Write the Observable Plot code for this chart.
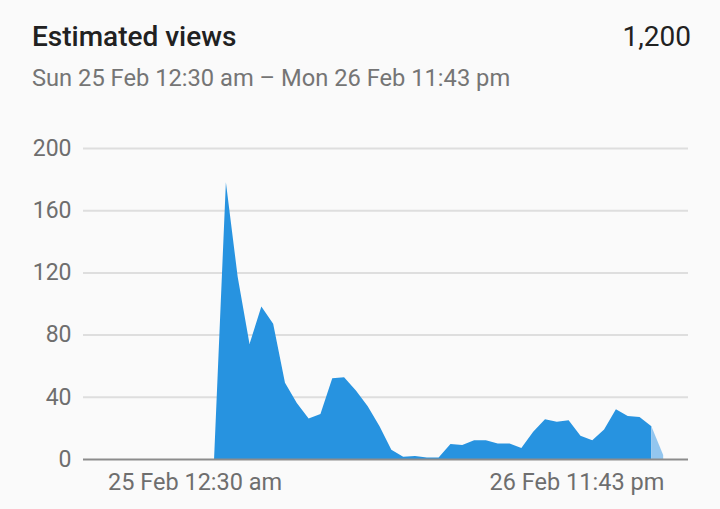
<!DOCTYPE html>
<html>
<head>
<meta charset="utf-8">
<script src="https://cdn.jsdelivr.net/npm/d3@7"></script>
<script src="https://cdn.jsdelivr.net/npm/@observablehq/plot@0.6"></script>
<style>
  html, body { margin: 0; padding: 0; background: #fafafa; }
  body { width: 720px; height: 509px; overflow: hidden; font-family: Roboto, sans-serif; }
  #hdr { position: relative; width: 720px; height: 110px; }
  #hdr div { position: absolute; white-space: nowrap; }
  .t { left: 32px; top: 23px; font: 500 28px/1 Roboto, sans-serif; color: #212121; }
  .n { right: 29px; top: 23px; font: 400 28px/1 Roboto, sans-serif; color: #212121; }
  .s { left: 32px; top: 67px; font: 400 23.7px/1 Roboto, sans-serif; color: #757575; }
  #chart svg { display: block; }
</style>
</head>
<body>
<div id="hdr">
  <div class="t" id="title"></div>
  <div class="n" id="total"></div>
  <div class="s" id="sub"></div>
</div>
<div id="chart"></div>
<script>
// ---- data ----
const titleText = "Estimated views";
const totalText = "1,200";
const subtitleText = "Sun 25 Feb 12:30 am – Mon 26 Feb 11:43 pm";

// one value per period, index 0 = first period after publishing
const views = [0, 178, 117, 74, 98, 87, 49, 36, 26, 29, 52, 52.5, 44, 34, 21, 6, 1.5, 2, 1, 1,
               9.6, 9, 12, 12, 10, 10, 7, 17.5, 25.5, 24, 25, 15, 12, 19, 32, 27.6, 27, 21, 2.5];
const completeCount = 38;           // last period is still incomplete (lighter)
const xDomain = [-11.09, 40.1];     // period index range of the full time axis
const xTickPositions = [-1.65, 30.66];
const xTickLabels = ["25 Feb 12:30 am", "26 Feb 11:43 pm"];
const yTicks = [0, 40, 80, 120, 160, 200];

// ---- build ----
document.getElementById("title").textContent = titleText;
document.getElementById("total").textContent = totalText;
document.getElementById("sub").textContent = subtitleText;

const rows = views.map((v, i) => ({i, v}));
const complete = rows.slice(0, completeCount);
const partial = rows.slice(completeCount - 1);
const labelOf = new Map(xTickPositions.map((p, k) => [p, xTickLabels[k]]));

const chart = Plot.plot({
  width: 720,
  height: 399,
  marginTop: 38,
  marginBottom: 50,
  marginLeft: 83,
  marginRight: 32,
  style: {background: "#fafafa", fontFamily: "Roboto, sans-serif", fontSize: "23px", color: "#6e6e6e"},
  x: {domain: xDomain},
  y: {domain: [0, 200]},
  marks: [
    Plot.gridY(yTicks.filter(d => d > 0), {stroke: "#dedede", strokeOpacity: 1, strokeWidth: 2}),
    Plot.areaY(complete, {x: "i", y: "v", fill: "#2793e0"}),
    Plot.areaY(partial, {x: "i", y: "v", fill: "#93c6ef"}),
    Plot.ruleY([0], {stroke: "#8c8c8c", strokeWidth: 2}),
    Plot.axisY(yTicks, {tickSize: 0, tickPadding: 12, fontSize: 23, fill: "#6e6e6e", label: null}),
    Plot.axisX(xTickPositions, {tickSize: 0, tickPadding: 13.5, fontSize: 23.5, fill: "#6e6e6e",
      tickFormat: d => labelOf.get(d), label: null})
  ]
});
document.getElementById("chart").appendChild(chart);
</script>
</body>
</html>
